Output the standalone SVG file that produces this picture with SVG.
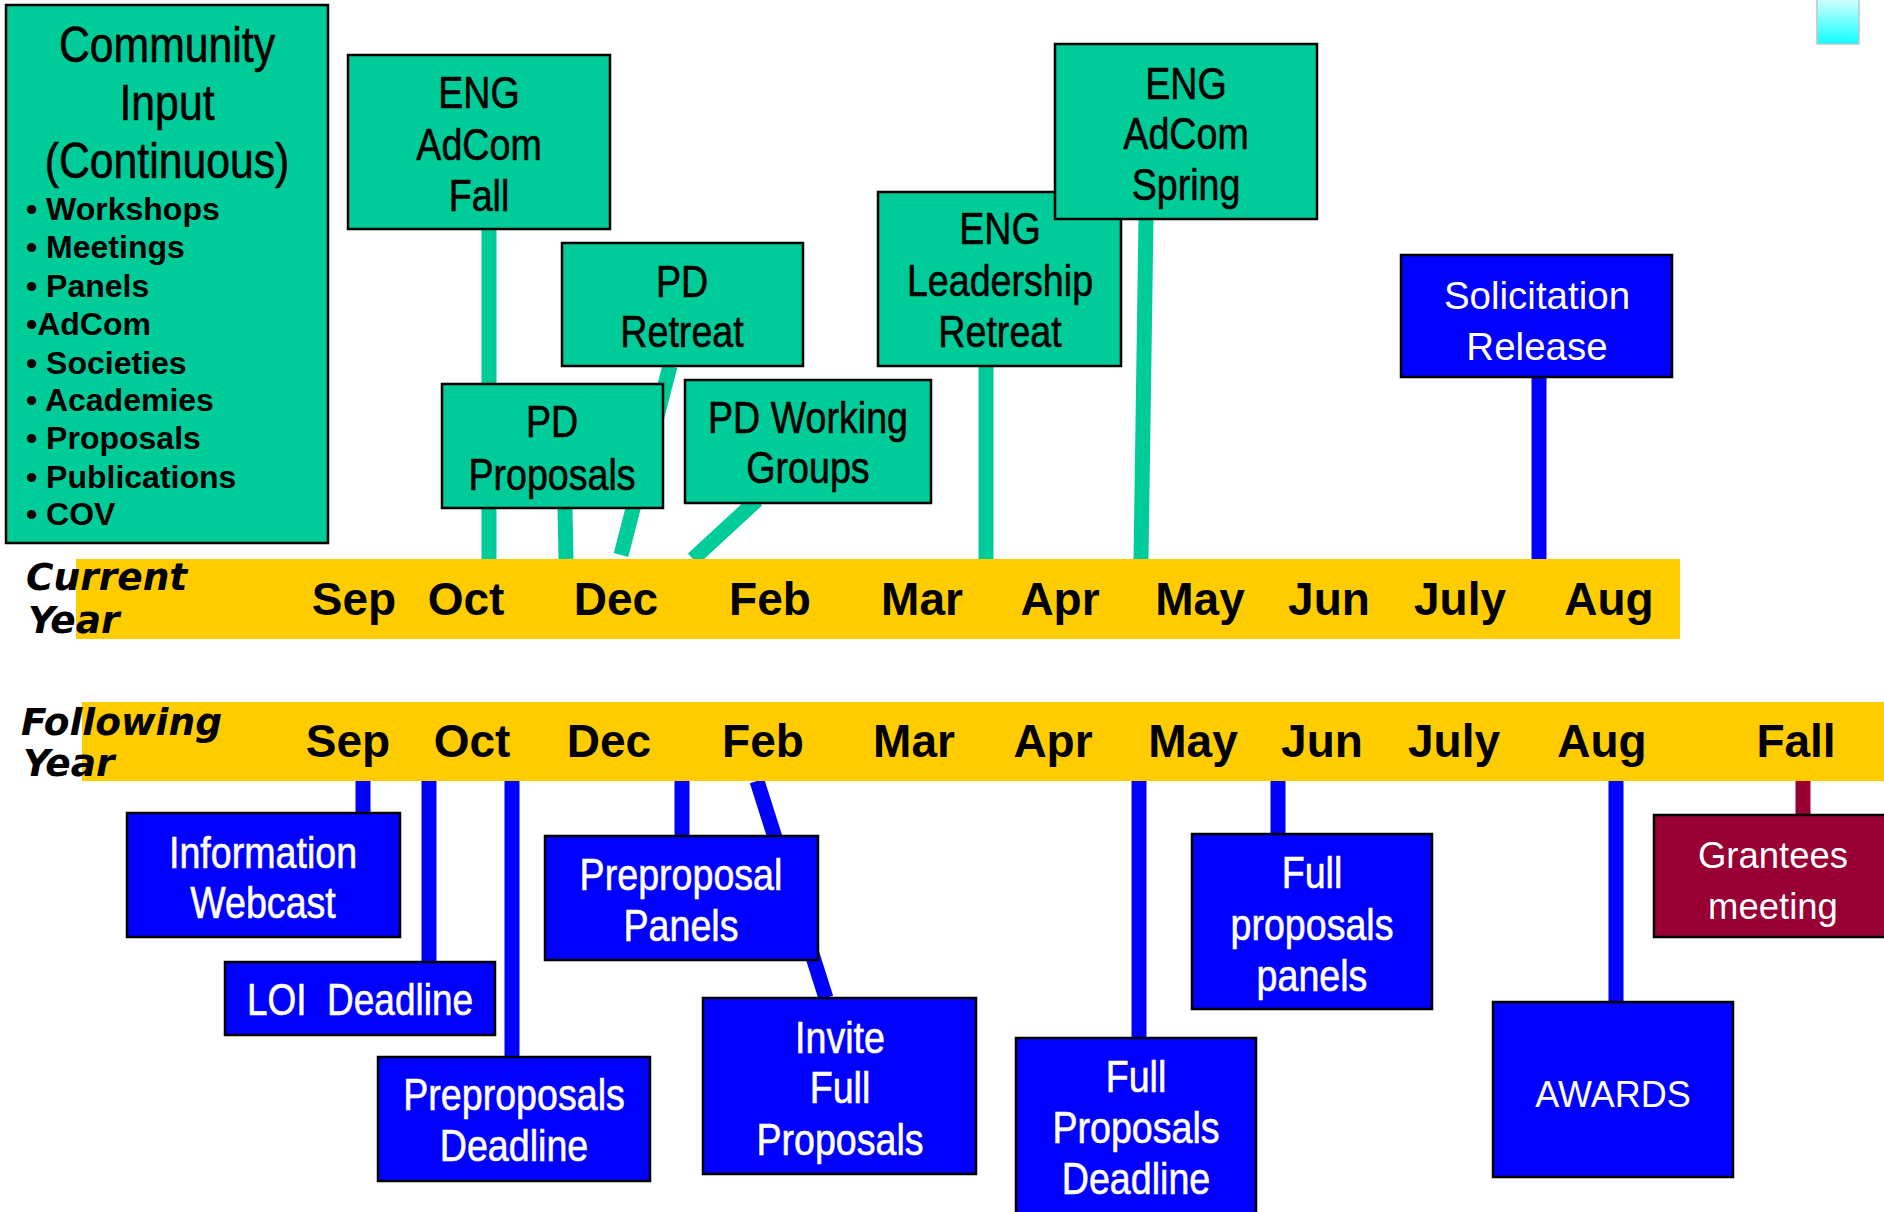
<svg xmlns="http://www.w3.org/2000/svg" width="1884" height="1212" viewBox="0 0 1884 1212">
<defs>
<linearGradient id="cy" x1="0" y1="0" x2="0" y2="1"><stop offset="0" stop-color="#d8ffff"/><stop offset="1" stop-color="#10ffff"/></linearGradient>
<style>
.g{fill:#00CC99;stroke:#000;stroke-width:2.5}
.b{fill:#0000FF;stroke:#000;stroke-width:2.5}
.m{fill:#990033;stroke:#000;stroke-width:2.5}
.n{font-family:"Liberation Sans",Arial,sans-serif;font-size:44px;text-anchor:middle;fill:#000;stroke:#000;stroke-width:0.6}
.r{font-family:"Liberation Sans",Arial,sans-serif;font-size:37px;text-anchor:middle;fill:#fff}
.n.w{fill:#fff;stroke:#fff}
.bul{font-family:"Liberation Sans",Arial,sans-serif;font-size:32px;font-weight:bold}
.mon{font-family:"Liberation Sans",Arial,sans-serif;font-size:46px;font-weight:bold;text-anchor:middle}
.yr{font-family:"DejaVu Sans",Verdana,sans-serif;font-size:37.5px;font-weight:bold;font-style:italic}
.cg{stroke:#00CC99;stroke-width:15;fill:none}
.cb{stroke:#0000FF;stroke-width:15;fill:none}
.cm{stroke:#990033;stroke-width:15;fill:none}
</style>
</defs>
<rect width="1884" height="1212" fill="#fff"/>
<rect x="1817" y="-2" width="42" height="46" fill="url(#cy)" stroke="#b8c8c8" stroke-width="1.5"/>

<g id="connectors">
<line class="cg" x1="489" y1="229" x2="489" y2="559"/>
<line class="cg" x1="670" y1="366" x2="621" y2="555"/>
<line class="cg" x1="565" y1="508" x2="566" y2="559"/>
<line class="cg" x1="757" y1="500" x2="693" y2="559"/>
<line class="cg" x1="986" y1="366" x2="986" y2="559"/>
<line class="cg" x1="1146" y1="219" x2="1141" y2="559"/>
<line class="cb" x1="1539" y1="377" x2="1539" y2="559"/>
<line class="cb" x1="363" y1="781" x2="363" y2="813" stroke-width="12"/>
<line class="cb" x1="429" y1="781" x2="429" y2="962"/>
<line class="cb" x1="512" y1="781" x2="512" y2="1057"/>
<line class="cb" x1="682" y1="781" x2="682" y2="836"/>
<line class="cb" x1="757" y1="781" x2="826" y2="998"/>
<line class="cb" x1="1139" y1="781" x2="1139" y2="1038"/>
<line class="cb" x1="1278" y1="781" x2="1278" y2="834"/>
<line class="cb" x1="1616" y1="781" x2="1616" y2="1002"/>
<line class="cm" x1="1803" y1="781" x2="1803" y2="815"/>
</g>

<g id="current-year">
<rect x="76" y="559" width="1604" height="80" fill="#FFCC00"/>
<text class="yr" x="26" y="590">Current</text>
<text class="yr" x="28" y="633">Year</text>
<text class="mon" y="615"><tspan x="354">Sep</tspan><tspan x="466">Oct</tspan><tspan x="616">Dec</tspan><tspan x="770">Feb</tspan><tspan x="922">Mar</tspan><tspan x="1060">Apr</tspan><tspan x="1200">May</tspan><tspan x="1329">Jun</tspan><tspan x="1460">July</tspan><tspan x="1609">Aug</tspan></text>
</g>

<g id="following-year">
<rect x="82" y="702" width="1802" height="79" fill="#FFCC00"/>
<text class="yr" x="21" y="735">Following</text>
<text class="yr" x="23" y="776">Year</text>
<text class="mon" y="757"><tspan x="348">Sep</tspan><tspan x="472">Oct</tspan><tspan x="609">Dec</tspan><tspan x="763">Feb</tspan><tspan x="914">Mar</tspan><tspan x="1053">Apr</tspan><tspan x="1193">May</tspan><tspan x="1322">Jun</tspan><tspan x="1454">July</tspan><tspan x="1602">Aug</tspan><tspan x="1796">Fall</tspan></text>
</g>

<g id="community-input">
<rect class="g" x="6" y="5" width="322" height="538"/>
<text class="n" transform="translate(167 0) scale(0.855 1)" style="font-size:50px"><tspan x="0" y="62">Community</tspan><tspan x="0" y="120">Input</tspan><tspan x="0" y="178">(Continuous)</tspan></text>
<text class="bul"><tspan x="26" y="220">• Workshops</tspan><tspan x="26" y="258">• Meetings</tspan><tspan x="26" y="297">• Panels</tspan><tspan x="26" y="335">•AdCom</tspan><tspan x="26" y="374">• Societies</tspan><tspan x="26" y="411">• Academies</tspan><tspan x="26" y="449">• Proposals</tspan><tspan x="26" y="488">• Publications</tspan><tspan x="26" y="525">• COV</tspan></text>
</g>

<g id="eng-adcom-fall">
<rect class="g" x="348" y="55" width="262" height="174"/>
<text class="n" transform="translate(479 0) scale(0.855 1)"><tspan x="0" y="108">ENG</tspan><tspan x="0" y="160">AdCom</tspan><tspan x="0" y="211">Fall</tspan></text>
</g>
<g id="pd-retreat">
<rect class="g" x="562" y="243" width="241" height="123"/>
<text class="n" transform="translate(682 0) scale(0.855 1)"><tspan x="0" y="297">PD</tspan><tspan x="0" y="347">Retreat</tspan></text>
</g>
<g id="pd-proposals">
<rect class="g" x="442" y="384" width="221" height="124"/>
<text class="n" transform="translate(552 0) scale(0.855 1)"><tspan x="0" y="437">PD</tspan><tspan x="0" y="490">Proposals</tspan></text>
</g>
<g id="pd-working-groups">
<rect class="g" x="685" y="380" width="246" height="123"/>
<text class="n" transform="translate(808 0) scale(0.855 1)"><tspan x="0" y="433">PD Working</tspan><tspan x="0" y="483">Groups</tspan></text>
</g>
<g id="eng-leadership-retreat">
<rect class="g" x="878" y="192" width="243" height="174"/>
<text class="n" transform="translate(1000 0) scale(0.855 1)"><tspan x="0" y="244">ENG</tspan><tspan x="0" y="296">Leadership</tspan><tspan x="0" y="347">Retreat</tspan></text>
</g>
<g id="eng-adcom-spring">
<rect class="g" x="1055" y="44" width="262" height="175"/>
<text class="n" transform="translate(1186 0) scale(0.855 1)"><tspan x="0" y="99">ENG</tspan><tspan x="0" y="149">AdCom</tspan><tspan x="0" y="200">Spring</tspan></text>
</g>
<g id="solicitation-release">
<rect class="b" x="1401" y="255" width="271" height="122"/>
<text class="r" style="font-size:38.5px"><tspan x="1537" y="309">Solicitation</tspan><tspan x="1537" y="360">Release</tspan></text>
</g>

<g id="information-webcast">
<rect class="b" x="127" y="813" width="273" height="124"/>
<text class="n w" transform="translate(263 0) scale(0.855 1)"><tspan x="0" y="868">Information</tspan><tspan x="0" y="918">Webcast</tspan></text>
</g>
<g id="loi-deadline">
<rect class="b" x="225" y="962" width="270" height="73"/>
<text class="n w" transform="translate(360 0) scale(0.84 1)" x="0" y="1015" xml:space="preserve">LOI  Deadline</text>
</g>
<g id="preproposals-deadline">
<rect class="b" x="378" y="1057" width="272" height="124"/>
<text class="n w" transform="translate(514 0) scale(0.855 1)"><tspan x="0" y="1110">Preproposals</tspan><tspan x="0" y="1161">Deadline</tspan></text>
</g>
<g id="preproposal-panels">
<rect class="b" x="545" y="836" width="273" height="124"/>
<text class="n w" transform="translate(681 0) scale(0.855 1)"><tspan x="0" y="890">Preproposal</tspan><tspan x="0" y="941">Panels</tspan></text>
</g>
<g id="invite-full-proposals">
<rect class="b" x="703" y="998" width="273" height="176"/>
<text class="n w" transform="translate(840 0) scale(0.855 1)"><tspan x="0" y="1053">Invite</tspan><tspan x="0" y="1103">Full</tspan><tspan x="0" y="1155">Proposals</tspan></text>
</g>
<g id="full-proposals-deadline">
<rect class="b" x="1016" y="1038" width="240" height="180"/>
<text class="n w" transform="translate(1136 0) scale(0.855 1)"><tspan x="0" y="1092">Full</tspan><tspan x="0" y="1143">Proposals</tspan><tspan x="0" y="1194">Deadline</tspan></text>
</g>
<g id="full-proposals-panels">
<rect class="b" x="1192" y="834" width="240" height="175"/>
<text class="n w" transform="translate(1312 0) scale(0.855 1)"><tspan x="0" y="888">Full</tspan><tspan x="0" y="940">proposals</tspan><tspan x="0" y="991">panels</tspan></text>
</g>
<g id="awards">
<rect class="b" x="1493" y="1002" width="240" height="175"/>
<text class="r" x="1613" y="1107" style="font-size:36px">AWARDS</text>
</g>
<g id="grantees-meeting">
<rect class="m" x="1654" y="815" width="240" height="122"/>
<text class="r" style="font-size:36.5px"><tspan x="1773" y="868">Grantees</tspan><tspan x="1773" y="919">meeting</tspan></text>
</g>
</svg>
